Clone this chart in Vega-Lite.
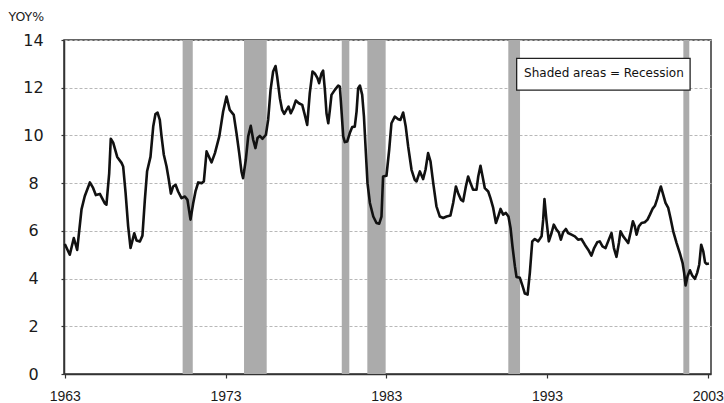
{
  "$schema": "https://vega.github.io/schema/vega-lite/v6.json",
  "width": 647,
  "height": 334,
  "autosize": {"type": "none"},
  "padding": {"left": 64, "top": 40, "right": 13, "bottom": 29},
  "background": "white",
  "datasets": {
    "series": [
      {"year": 1963.00, "yoy": 5.45}, {"year": 1963.31, "yoy": 5.0}, {"year": 1963.56, "yoy": 5.7}, {"year": 1963.77, "yoy": 5.2},
      {"year": 1964.04, "yoy": 6.9}, {"year": 1964.24, "yoy": 7.45}, {"year": 1964.56, "yoy": 8.03}, {"year": 1964.76, "yoy": 7.8},
      {"year": 1964.93, "yoy": 7.5}, {"year": 1965.18, "yoy": 7.55}, {"year": 1965.49, "yoy": 7.15}, {"year": 1965.59, "yoy": 7.1},
      {"year": 1965.76, "yoy": 8.4}, {"year": 1965.86, "yoy": 9.86}, {"year": 1966.01, "yoy": 9.7}, {"year": 1966.26, "yoy": 9.1},
      {"year": 1966.53, "yoy": 8.85}, {"year": 1966.63, "yoy": 8.7}, {"year": 1966.78, "yoy": 7.6}, {"year": 1966.94, "yoy": 6.2},
      {"year": 1967.09, "yoy": 5.28}, {"year": 1967.21, "yoy": 5.6}, {"year": 1967.32, "yoy": 5.9}, {"year": 1967.46, "yoy": 5.6},
      {"year": 1967.67, "yoy": 5.55}, {"year": 1967.83, "yoy": 5.8}, {"year": 1967.98, "yoy": 7.3}, {"year": 1968.12, "yoy": 8.5},
      {"year": 1968.33, "yoy": 9.1}, {"year": 1968.50, "yoy": 10.37}, {"year": 1968.64, "yoy": 10.9}, {"year": 1968.77, "yoy": 10.96},
      {"year": 1968.91, "yoy": 10.65}, {"year": 1969.02, "yoy": 9.95}, {"year": 1969.16, "yoy": 9.19}, {"year": 1969.33, "yoy": 8.7},
      {"year": 1969.47, "yoy": 8.14}, {"year": 1969.60, "yoy": 7.56}, {"year": 1969.74, "yoy": 7.86}, {"year": 1969.89, "yoy": 7.93},
      {"year": 1970.05, "yoy": 7.65}, {"year": 1970.26, "yoy": 7.37}, {"year": 1970.47, "yoy": 7.44}, {"year": 1970.63, "yoy": 7.3},
      {"year": 1970.82, "yoy": 6.47}, {"year": 1970.99, "yoy": 7.17}, {"year": 1971.13, "yoy": 7.65}, {"year": 1971.30, "yoy": 8.03},
      {"year": 1971.51, "yoy": 8.0}, {"year": 1971.65, "yoy": 8.07}, {"year": 1971.82, "yoy": 9.33}, {"year": 1971.96, "yoy": 9.12},
      {"year": 1972.13, "yoy": 8.87}, {"year": 1972.34, "yoy": 9.26}, {"year": 1972.61, "yoy": 9.96}, {"year": 1972.85, "yoy": 11.0},
      {"year": 1973.06, "yoy": 11.63}, {"year": 1973.26, "yoy": 11.07}, {"year": 1973.51, "yoy": 10.86}, {"year": 1973.68, "yoy": 10.1},
      {"year": 1973.85, "yoy": 9.26}, {"year": 1973.99, "yoy": 8.49}, {"year": 1974.09, "yoy": 8.21}, {"year": 1974.26, "yoy": 8.98},
      {"year": 1974.41, "yoy": 9.96}, {"year": 1974.57, "yoy": 10.4}, {"year": 1974.72, "yoy": 9.82}, {"year": 1974.86, "yoy": 9.47},
      {"year": 1974.99, "yoy": 9.89}, {"year": 1975.13, "yoy": 9.98}, {"year": 1975.30, "yoy": 9.86}, {"year": 1975.51, "yoy": 10.03},
      {"year": 1975.65, "yoy": 10.65}, {"year": 1975.80, "yoy": 11.91}, {"year": 1975.96, "yoy": 12.68}, {"year": 1976.11, "yoy": 12.91},
      {"year": 1976.21, "yoy": 12.47}, {"year": 1976.38, "yoy": 11.56}, {"year": 1976.52, "yoy": 11.07}, {"year": 1976.65, "yoy": 10.9},
      {"year": 1976.79, "yoy": 11.07}, {"year": 1976.92, "yoy": 11.21}, {"year": 1977.06, "yoy": 10.93}, {"year": 1977.21, "yoy": 11.14},
      {"year": 1977.37, "yoy": 11.46}, {"year": 1977.56, "yoy": 11.35}, {"year": 1977.77, "yoy": 11.28}, {"year": 1977.93, "yoy": 10.86},
      {"year": 1978.08, "yoy": 10.44}, {"year": 1978.24, "yoy": 11.77}, {"year": 1978.41, "yoy": 12.68}, {"year": 1978.55, "yoy": 12.6},
      {"year": 1978.72, "yoy": 12.4}, {"year": 1978.82, "yoy": 12.19}, {"year": 1978.97, "yoy": 12.6}, {"year": 1979.07, "yoy": 12.72},
      {"year": 1979.18, "yoy": 11.91}, {"year": 1979.28, "yoy": 10.93}, {"year": 1979.39, "yoy": 10.51}, {"year": 1979.49, "yoy": 11.07},
      {"year": 1979.59, "yoy": 11.7}, {"year": 1979.80, "yoy": 11.91}, {"year": 1980.01, "yoy": 12.09}, {"year": 1980.11, "yoy": 12.05},
      {"year": 1980.21, "yoy": 11.07}, {"year": 1980.32, "yoy": 9.96}, {"year": 1980.42, "yoy": 9.72}, {"year": 1980.57, "yoy": 9.75},
      {"year": 1980.73, "yoy": 10.1}, {"year": 1980.88, "yoy": 10.35}, {"year": 1981.04, "yoy": 10.37}, {"year": 1981.15, "yoy": 11.0},
      {"year": 1981.25, "yoy": 11.98}, {"year": 1981.36, "yoy": 12.09}, {"year": 1981.50, "yoy": 11.7}, {"year": 1981.61, "yoy": 10.79},
      {"year": 1981.73, "yoy": 9.26}, {"year": 1981.83, "yoy": 8.0}, {"year": 1981.98, "yoy": 7.17}, {"year": 1982.19, "yoy": 6.6},
      {"year": 1982.39, "yoy": 6.33}, {"year": 1982.56, "yoy": 6.3}, {"year": 1982.70, "yoy": 6.6}, {"year": 1982.80, "yoy": 8.28},
      {"year": 1983.01, "yoy": 8.31}, {"year": 1983.18, "yoy": 9.4}, {"year": 1983.32, "yoy": 10.51}, {"year": 1983.53, "yoy": 10.79},
      {"year": 1983.74, "yoy": 10.68}, {"year": 1983.88, "yoy": 10.65}, {"year": 1984.05, "yoy": 10.96}, {"year": 1984.21, "yoy": 10.37},
      {"year": 1984.36, "yoy": 9.54}, {"year": 1984.57, "yoy": 8.56}, {"year": 1984.77, "yoy": 8.14}, {"year": 1984.88, "yoy": 8.07},
      {"year": 1985.09, "yoy": 8.49}, {"year": 1985.29, "yoy": 8.17}, {"year": 1985.44, "yoy": 8.56}, {"year": 1985.60, "yoy": 9.26},
      {"year": 1985.75, "yoy": 8.91}, {"year": 1985.92, "yoy": 8.0}, {"year": 1986.12, "yoy": 7.03}, {"year": 1986.33, "yoy": 6.6},
      {"year": 1986.54, "yoy": 6.54}, {"year": 1986.75, "yoy": 6.6}, {"year": 1986.99, "yoy": 6.64}, {"year": 1987.16, "yoy": 7.17},
      {"year": 1987.33, "yoy": 7.86}, {"year": 1987.47, "yoy": 7.58}, {"year": 1987.64, "yoy": 7.31}, {"year": 1987.78, "yoy": 7.24},
      {"year": 1987.95, "yoy": 7.86}, {"year": 1988.09, "yoy": 8.28}, {"year": 1988.24, "yoy": 8.0}, {"year": 1988.40, "yoy": 7.72},
      {"year": 1988.61, "yoy": 7.72}, {"year": 1988.72, "yoy": 8.28}, {"year": 1988.86, "yoy": 8.73}, {"year": 1988.99, "yoy": 8.28},
      {"year": 1989.13, "yoy": 7.79}, {"year": 1989.34, "yoy": 7.65}, {"year": 1989.48, "yoy": 7.37}, {"year": 1989.65, "yoy": 6.96},
      {"year": 1989.82, "yoy": 6.33}, {"year": 1989.96, "yoy": 6.6}, {"year": 1990.11, "yoy": 6.92}, {"year": 1990.27, "yoy": 6.68},
      {"year": 1990.44, "yoy": 6.75}, {"year": 1990.60, "yoy": 6.6}, {"year": 1990.73, "yoy": 6.12}, {"year": 1990.85, "yoy": 5.35},
      {"year": 1991.00, "yoy": 4.52}, {"year": 1991.10, "yoy": 4.07}, {"year": 1991.31, "yoy": 4.03}, {"year": 1991.48, "yoy": 3.68},
      {"year": 1991.62, "yoy": 3.37}, {"year": 1991.79, "yoy": 3.33}, {"year": 1991.93, "yoy": 4.24}, {"year": 1992.08, "yoy": 5.56},
      {"year": 1992.24, "yoy": 5.66}, {"year": 1992.45, "yoy": 5.56}, {"year": 1992.66, "yoy": 5.77}, {"year": 1992.76, "yoy": 6.47},
      {"year": 1992.84, "yoy": 7.33}, {"year": 1992.96, "yoy": 6.47}, {"year": 1993.11, "yoy": 5.56}, {"year": 1993.28, "yoy": 5.91},
      {"year": 1993.42, "yoy": 6.26}, {"year": 1993.59, "yoy": 6.05}, {"year": 1993.73, "yoy": 5.94}, {"year": 1993.86, "yoy": 5.63},
      {"year": 1994.00, "yoy": 5.94}, {"year": 1994.17, "yoy": 6.08}, {"year": 1994.31, "yoy": 5.91}, {"year": 1994.52, "yoy": 5.84},
      {"year": 1994.73, "yoy": 5.77}, {"year": 1994.93, "yoy": 5.63}, {"year": 1995.14, "yoy": 5.66}, {"year": 1995.35, "yoy": 5.42},
      {"year": 1995.56, "yoy": 5.21}, {"year": 1995.76, "yoy": 4.96}, {"year": 1995.93, "yoy": 5.28}, {"year": 1996.12, "yoy": 5.52},
      {"year": 1996.28, "yoy": 5.56}, {"year": 1996.45, "yoy": 5.35}, {"year": 1996.64, "yoy": 5.28}, {"year": 1996.80, "yoy": 5.56},
      {"year": 1997.01, "yoy": 5.91}, {"year": 1997.16, "yoy": 5.28}, {"year": 1997.32, "yoy": 4.91}, {"year": 1997.47, "yoy": 5.49},
      {"year": 1997.57, "yoy": 5.98}, {"year": 1997.74, "yoy": 5.77}, {"year": 1997.90, "yoy": 5.63}, {"year": 1998.05, "yoy": 5.49},
      {"year": 1998.19, "yoy": 5.91}, {"year": 1998.34, "yoy": 6.4}, {"year": 1998.46, "yoy": 6.19}, {"year": 1998.57, "yoy": 5.84},
      {"year": 1998.71, "yoy": 6.19}, {"year": 1998.88, "yoy": 6.33}, {"year": 1999.08, "yoy": 6.36}, {"year": 1999.25, "yoy": 6.47},
      {"year": 1999.40, "yoy": 6.68}, {"year": 1999.56, "yoy": 6.92}, {"year": 1999.71, "yoy": 7.05}, {"year": 1999.85, "yoy": 7.33},
      {"year": 1999.98, "yoy": 7.65}, {"year": 2000.08, "yoy": 7.86}, {"year": 2000.23, "yoy": 7.51}, {"year": 2000.37, "yoy": 7.17},
      {"year": 2000.54, "yoy": 6.96}, {"year": 2000.68, "yoy": 6.54}, {"year": 2000.85, "yoy": 5.98}, {"year": 2001.06, "yoy": 5.49},
      {"year": 2001.26, "yoy": 5.07}, {"year": 2001.43, "yoy": 4.66}, {"year": 2001.53, "yoy": 4.24}, {"year": 2001.62, "yoy": 3.71},
      {"year": 2001.74, "yoy": 4.1}, {"year": 2001.89, "yoy": 4.35}, {"year": 2002.03, "yoy": 4.13}, {"year": 2002.20, "yoy": 3.99},
      {"year": 2002.34, "yoy": 4.24}, {"year": 2002.47, "yoy": 4.59}, {"year": 2002.59, "yoy": 5.42}, {"year": 2002.72, "yoy": 5.14},
      {"year": 2002.83, "yoy": 4.68}, {"year": 2002.92, "yoy": 4.61}, {"year": 2003.07, "yoy": 4.63}
    ],
    "recessions": [
      {"start": 1970.33, "end": 1970.96},
      {"start": 1974.15, "end": 1975.56},
      {"start": 1980.23, "end": 1980.70},
      {"start": 1981.82, "end": 1982.96},
      {"start": 1990.59, "end": 1991.32},
      {"start": 2001.48, "end": 2001.85}
    ]
  },
  "layer": [
    {
      "data": {"name": "recessions"},
      "mark": {"type": "rect", "color": "#ababab"},
      "encoding": {
        "x": {"field": "start", "type": "quantitative"},
        "x2": {"field": "end"}
      }
    },
    {
      "data": {"name": "series"},
      "mark": {"type": "line", "color": "#111111", "strokeWidth": 2.6, "strokeJoin": "round"},
      "encoding": {
        "x": {
          "field": "year", "type": "quantitative",
          "scale": {"domain": [1962.95, 2003.2], "nice": false, "zero": false},
          "axis": {
            "values": [1963, 1973, 1983, 1993, 2003], "format": "d", "title": null,
            "grid": false, "labelFont": "Liberation Sans", "labelFontSize": 14,
            "labelPadding": 11, "tickSize": 4, "labelFlush": false
          }
        },
        "y": {
          "field": "yoy", "type": "quantitative",
          "scale": {"domain": [0, 14], "nice": false},
          "axis": {
            "values": [0, 2, 4, 6, 8, 10, 12, 14], "title": "YOY%",
            "titleAngle": 0, "titleAlign": "left", "titleBaseline": "alphabetic",
            "titleX": -56, "titleY": -20, "titleFontSize": 12.5, "titleFontWeight": "normal",
            "labelFontSize": 16, "labelAlign": "center", "labelPadding": 28, "tickSize": 3,
            "grid": true
          }
        }
      }
    },
    {
      "data": {"values": [{}]},
      "mark": {"type": "rect", "fill": "white", "stroke": "#222222", "strokeWidth": 1.3},
      "encoding": {
        "x": {"datum": 1991.11, "type": "quantitative"},
        "x2": {"datum": 2001.9},
        "y": {"datum": 13.23, "type": "quantitative"},
        "y2": {"datum": 11.9}
      }
    },
    {
      "data": {"values": [{}]},
      "mark": {"type": "text", "text": "Shaded areas = Recession", "fontSize": 12, "color": "#111111", "align": "center", "baseline": "middle"},
      "encoding": {
        "x": {"datum": 1996.54, "type": "quantitative"},
        "y": {"datum": 12.6, "type": "quantitative"}
      }
    }
  ],
  "config": {
    "font": "DejaVu Sans",
    "view": {"stroke": "#333333", "strokeWidth": 1.5},
    "axis": {
      "domainColor": "#333333", "domainWidth": 1.5,
      "tickColor": "#333333", "tickWidth": 1.2,
      "labelColor": "#1a1a1a", "titleColor": "#1a1a1a",
      "gridColor": "#b8b8b8", "gridWidth": 1, "gridDash": [3, 2]
    }
  }
}
